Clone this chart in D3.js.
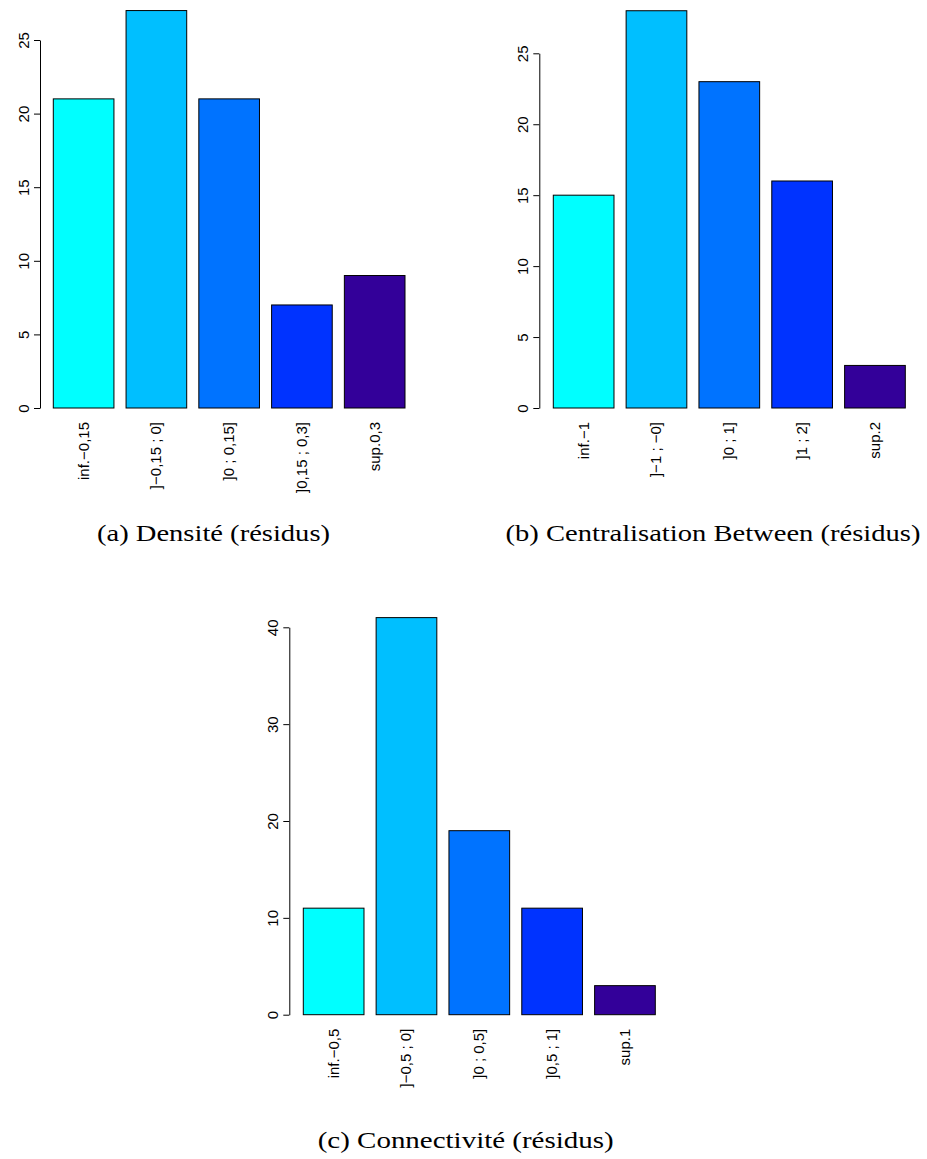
<!DOCTYPE html>
<html>
<head>
<meta charset="utf-8">
<script src="https://cdn.jsdelivr.net/npm/d3@7"></script>
<style>
  html, body { margin: 0; padding: 0; background: #ffffff; }
  svg { display: block; }
</style>
</head>
<body>
<div id="chart"></div>
<script>
// ---------------- data ----------------
const barColors = ["#00FFFF", "#00BFFF", "#0073FF", "#0033FF", "#330099"];

const categoriesA = ["inf.\u22120,15", "]\u22120,15 ; 0]", "]0 ; 0,15]", "]0,15 ; 0,3]", "sup.0,3"];
const valuesA = [21, 27, 21, 7, 9];
const ticksA = [0, 5, 10, 15, 20, 25];
const captionA = "(a) Densité (résidus)";

const categoriesB = ["inf.\u22121", "]\u22121 ; \u22120]", "]0 ; 1]", "]1 ; 2]", "sup.2"];
const valuesB = [15, 28, 23, 16, 3];
const ticksB = [0, 5, 10, 15, 20, 25];
const captionB = "(b) Centralisation Between (résidus)";

const categoriesC = ["inf.\u22120,5", "]\u22120,5 ; 0]", "]0 ; 0,5]", "]0,5 ; 1]", "sup.1"];
const valuesC = [11, 41, 19, 11, 3];
const ticksC = [0, 10, 20, 30, 40];
const captionC = "(c) Connectivité (résidus)";

// ---------------- layout ----------------
const W = 927, H = 1159;
const svg = d3.select("#chart").append("svg")
  .attr("width", W).attr("height", H)
  .attr("viewBox", `0 0 ${W} ${H}`);

const panels = [
  { cats: categoriesA, vals: valuesA, ticks: ticksA, caption: captionA,
    axisX: 40, y0: 408, yTopPx: 40, barL: 53.3, barR: 405,
    capX: 213.5, capY: 541, capW: 233 },
  { cats: categoriesB, vals: valuesB, ticks: ticksB, caption: captionB,
    axisX: 539.3, y0: 408, yTopPx: 53.3, barL: 553.3, barR: 905.3,
    capX: 713, capY: 541, capW: 415 },
  { cats: categoriesC, vals: valuesC, ticks: ticksC, caption: captionC,
    axisX: 289.3, y0: 1014.7, yTopPx: 627.3, barL: 303.3, barR: 655.3,
    capX: 465.7, capY: 1148, capW: 296 }
];

const sansFont = "'Liberation Sans', Arial, Helvetica, sans-serif";
const serifFont = "'Liberation Serif', 'Times New Roman', serif";

panels.forEach(p => {
  const g = svg.append("g");
  const tMax = p.ticks[p.ticks.length - 1];
  const y = d3.scaleLinear().domain([0, tMax]).range([p.y0, p.yTopPx]);
  const x = d3.scaleBand().domain(p.cats).range([p.barL, p.barR])
    .paddingInner(1 / 6).paddingOuter(0);

  // bars
  g.selectAll("rect.bar").data(p.vals).enter().append("rect")
    .attr("class", "bar")
    .attr("x", (d, i) => x(p.cats[i]))
    .attr("y", d => y(d))
    .attr("width", x.bandwidth())
    .attr("height", d => y(0) - y(d))
    .attr("fill", (d, i) => barColors[i])
    .attr("stroke", "#000")
    .attr("stroke-width", 1);

  // y axis (R style)
  const axis = d3.axisLeft(y).tickValues(p.ticks).tickSize(6).tickSizeOuter(0)
    .tickFormat(d3.format("d"));
  const ag = g.append("g").attr("transform", `translate(${p.axisX},0)`).call(axis);
  ag.select(".domain").attr("stroke", "#000").attr("stroke-width", 1);
  ag.selectAll(".tick line").attr("stroke", "#000").attr("stroke-width", 1);
  ag.selectAll(".tick text")
    .attr("x", 0).attr("y", -11).attr("dy", 0)
    .attr("transform", "rotate(-90)")
    .attr("text-anchor", "middle")
    .attr("font-family", sansFont)
    .attr("font-size", 15)
    .attr("fill", "#000");

  // category labels (rotated, las = 2)
  g.selectAll("text.cat").data(p.cats).enter().append("text")
    .attr("class", "cat")
    .attr("transform", d => `translate(${x(d) + x.bandwidth() / 2},${p.y0 + 14}) rotate(-90)`)
    .attr("dy", "0.33em")
    .attr("text-anchor", "end")
    .attr("font-family", sansFont)
    .attr("font-size", 15)
    .attr("fill", "#000")
    .text(d => d);

  // caption
  g.append("text")
    .attr("x", p.capX).attr("y", p.capY)
    .attr("text-anchor", "middle")
    .attr("font-family", serifFont)
    .attr("font-size", 24)
    .attr("textLength", p.capW)
    .attr("lengthAdjust", "spacingAndGlyphs")
    .attr("fill", "#000")
    .text(p.caption);
});
</script>
</body>
</html>
